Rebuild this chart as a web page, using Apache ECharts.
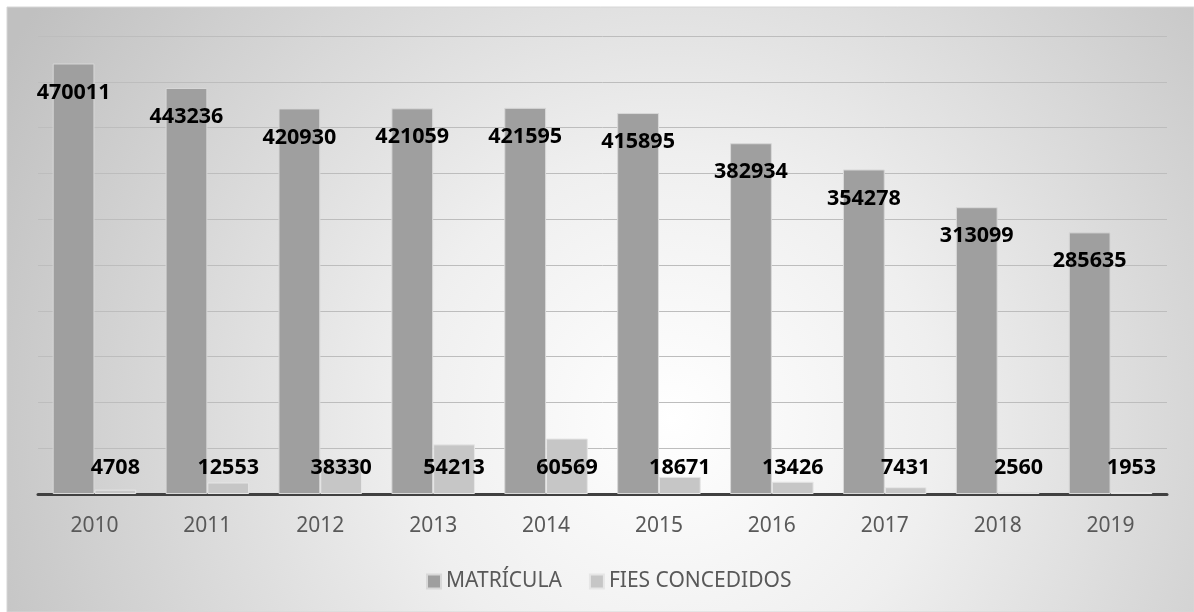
<!DOCTYPE html>
<html>
<head>
<meta charset="utf-8">
<script src="https://cdn.jsdelivr.net/npm/echarts@6/dist/echarts.min.js"></script>
<style>
html,body{margin:0;padding:0;background:#ffffff;}
#chart{width:1194px;height:612px;}
</style>
</head>
<body>
<div id="chart"></div>
<script>
const years = ['2010','2011','2012','2013','2014','2015','2016','2017','2018','2019'];
const matricula = [470011,443236,420930,421059,421595,415895,382934,354278,313099,285635];
const fiesConcedidos = [4708,12553,38330,54213,60569,18671,13426,7431,2560,1953];
const seriesNames = ['MATRÍCULA','FIES CONCEDIDOS'];

const chart = echarts.init(document.getElementById('chart'));
const font = 'Noto Sans';
chart.setOption({
  animation: false,
  backgroundColor: '#ffffff',
  graphic: [{
    type: 'rect',
    z: -10,
    silent: true,
    shape: {x: 7, y: 7, width: 1187, height: 605},
    style: {
      fill: {
        type: 'radial', x: 0.56, y: 0.68, r: 1.25,
        colorStops: [
          {offset: 0, color: '#ffffff'},
          {offset: 0.35, color: '#efefef'},
          {offset: 1, color: '#c0c0c0'}
        ]
      },
      stroke: '#d6d6d6',
      lineWidth: 1
    }
  }],
  grid: {left: 38, right: 27, top: 36, bottom: 118, containLabel: false},
  legend: {
    data: seriesNames,
    top: 566,
    left: 421,
    icon: 'rect',
    itemWidth: 14,
    itemHeight: 14,
    itemGap: 27,
    textStyle: {fontFamily: font, fontSize: 21, color: '#595959'}
  },
  xAxis: {
    type: 'category',
    data: years,
    axisLine: {show: true, lineStyle: {color: '#404040', width: 3}},
    axisTick: {show: false},
    axisLabel: {fontFamily: font, fontSize: 21, color: '#595959', margin: 22}
  },
  yAxis: {
    type: 'value',
    min: 0,
    max: 500000,
    interval: 50000,
    axisLabel: {show: false},
    axisLine: {show: false},
    axisTick: {show: false},
    splitLine: {lineStyle: {color: '#bdbdbd', width: 1}}
  },
  series: [
    {
      name: seriesNames[0],
      type: 'bar',
      data: matricula,
      barGap: '0%',
      barCategoryGap: '26%',
      itemStyle: {color: '#9f9f9f', borderColor: '#d8d8d8', borderWidth: 1},
      label: {
        show: true,
        position: 'insideTop',
        distance: 18,
        fontFamily: font,
        fontSize: 21.5,
        fontWeight: 'bold',
        color: '#000000'
      }
    },
    {
      name: seriesNames[1],
      type: 'bar',
      data: fiesConcedidos,
      itemStyle: {color: '#c6c6c6', borderColor: '#e6e6e6', borderWidth: 1},
      label: {
        show: true,
        position: 'insideBottom',
        distance: 15,
        fontFamily: font,
        fontSize: 21.5,
        fontWeight: 'bold',
        color: '#000000'
      }
    }
  ]
});
</script>
</body>
</html>
